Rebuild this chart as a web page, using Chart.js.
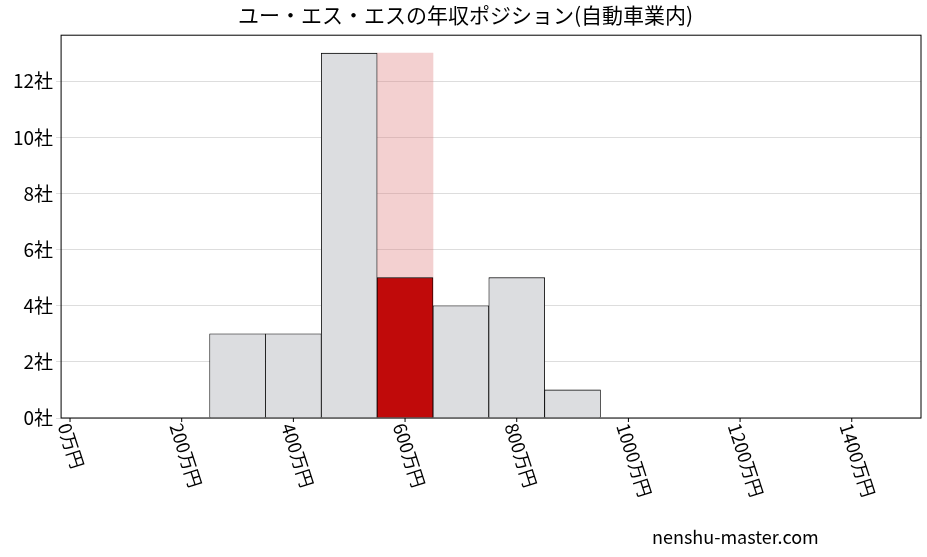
<!DOCTYPE html><html><head><meta charset="utf-8">
<script src="https://cdn.jsdelivr.net/npm/chart.js@4"></script>
<style>body{margin:0;background:#fff}#w{width:927px;height:557px;position:relative}</style></head><body>
<div id="w"><canvas id="c"></canvas></div>
<script>
const binCenters=[300,400,500,700,800,900];
const binCounts=[3,3,13,4,5,1];
const ownCenter=600, ownCount=5, ownBinTotal=13;
const xTicks=[0,200,400,600,800,1000,1200,1400];
const yTicks=[0,2,4,6,8,10,12];
const F='"Noto Sans CJK JP"';
const labels={id:'lbl',afterDraw(ch){const c=ch.ctx,s=ch.scales.x,a=ch.chartArea;c.save();c.font='18px '+F;c.fillStyle='#000';
xTicks.forEach(v=>{const x=s.getPixelForValue(v);c.beginPath();c.moveTo(x,a.bottom);c.lineTo(x,a.bottom+4);c.stroke();
c.save();c.translate(x-6,a.bottom+6);c.rotate(72*Math.PI/180);c.textAlign='left';c.textBaseline='middle';c.fillText(v+'万円',0,0);c.restore();});
c.strokeStyle='#000';c.lineWidth=1;c.strokeRect(a.left,a.top,a.right-a.left,a.bottom-a.top);
c.font='18px '+F;c.textAlign='left';c.fillText('nenshu-master.com',652,544);c.restore();}};
const pts=(xs,ys)=>xs.map((x,i)=>({x,y:ys[i]}));
new Chart(document.getElementById('c'),{type:'bar',
data:{datasets:[
{data:[{x:ownCenter,y:ownCount}],backgroundColor:'#c00a0a',borderColor:'#000',borderWidth:0.8,order:0},
{data:[{x:ownCenter,y:ownBinTotal}],backgroundColor:'rgba(220,120,120,0.35)',borderWidth:0,order:2},
{data:pts(binCenters,binCounts),backgroundColor:'#dcdde0',borderColor:'#000',borderWidth:0.8,order:1}]},
options:{responsive:true,maintainAspectRatio:false,animation:false,
datasets:{bar:{grouped:false,barPercentage:1,categoryPercentage:1}},
layout:{padding:{left:10,right:6,bottom:131}},
plugins:{legend:{display:false},tooltip:{enabled:false},
title:{display:true,text:'ユー・エス・エスの年収ポジション(自動車業内)',color:'#000',font:{family:F,size:21,weight:'normal'},padding:{top:2,bottom:8}}},
scales:{x:{type:'linear',offset:false,min:-16,max:1524,ticks:{display:false},grid:{display:false},border:{display:false}},
y:{min:0,max:13.64,afterBuildTicks:s=>{s.ticks=yTicks.map(v=>({value:v}));},
ticks:{color:'#000',font:{family:F,size:19},callback:v=>v+'社'},grid:{color:'#ddd',tickLength:5},border:{display:false}}}},
plugins:[labels]});
</script></body></html>
